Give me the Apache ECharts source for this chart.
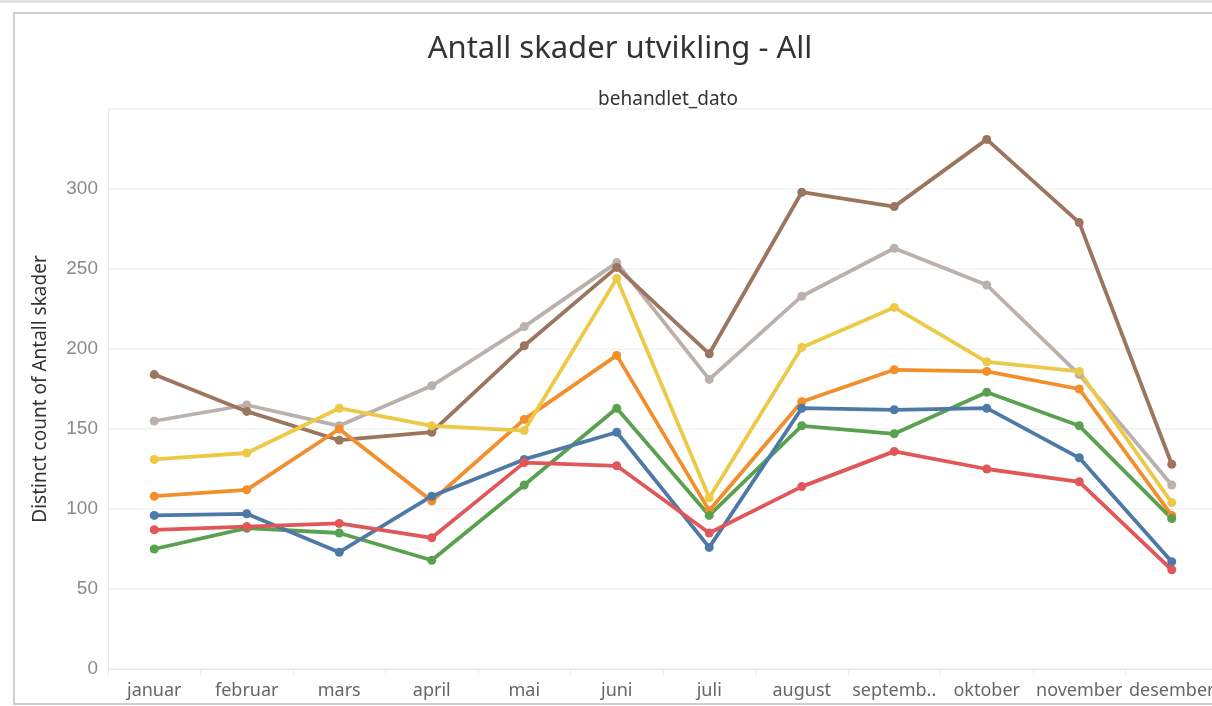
<!DOCTYPE html>
<html>
<head>
<meta charset="utf-8">
<script src="https://cdn.jsdelivr.net/npm/echarts@6/dist/echarts.min.js"></script>
<style>
  html, body { margin: 0; padding: 0; background: #fff; overflow: hidden; }
  #band { position: absolute; left: 0; top: 0; width: 1212px; height: 3px; background: #e4e0dc; }
  #frame { position: absolute; left: 13px; top: 12px; width: 1210px; height: 689px; border: 2px solid #cfcfcf; border-right: none; }
  #main { position: absolute; left: 0; top: 0; width: 1220px; height: 706px; }
</style>
</head>
<body>
<div id="band"></div>
<div id="frame"></div>
<div id="main"></div>
<script>
// måneder og verdier
var months = ['januar', 'februar', 'mars', 'april', 'mai', 'juni', 'juli', 'august', 'septemb..', 'oktober', 'november', 'desember'];

var blue   = [96, 97, 73, 108, 131, 148, 76, 163, 162, 163, 132, 67];
var orange = [108, 112, 150, 105, 156, 196, 99, 167, 187, 186, 175, 96];
var red    = [87, 89, 91, 82, 129, 127, 85, 114, 136, 125, 117, 62];
var green  = [75, 88, 85, 68, 115, 163, 96, 152, 147, 173, 152, 94];
var yellow = [131, 135, 163, 152, 149, 244, 107, 201, 226, 192, 186, 104];
var brown  = [184, 161, 143, 148, 202, 251, 197, 298, 289, 331, 279, 128];
var grey   = [155, 165, 152, 177, 214, 254, 181, 233, 263, 240, 184, 115];

var yTicks = [0, 50, 100, 150, 200, 250, 300];

function line(name, data, color) {
  return {
    name: name,
    type: 'line',
    data: data,
    symbol: 'circle',
    symbolSize: 9,
    lineStyle: { width: 3.8, color: color },
    itemStyle: { color: color },
    animation: false
  };
}

var myChart = echarts.init(document.getElementById('main'));
myChart.setOption({
  title: [{
    text: 'Antall skader utvikling - All',
    left: 615,
    top: 29,
    textAlign: 'center',
    textStyle: { fontFamily: 'Noto Sans', fontSize: 31, fontWeight: 'normal', color: '#333' }
  }, {
    text: 'behandlet_dato',
    left: 663,
    top: 85,
    textAlign: 'center',
    textStyle: { fontFamily: 'Noto Sans', fontSize: 19, fontWeight: 'normal', color: '#333' }
  }],
  grid: { left: 108, right: 2, top: 109, bottom: 37 },
  xAxis: {
    type: 'category',
    data: months,
    axisLine: { lineStyle: { color: '#e6e6e6' } },
    axisTick: { show: true, length: 7, lineStyle: { color: '#ececec' } },
    axisLabel: { fontFamily: 'Noto Sans', fontSize: 18, color: '#666', margin: 13, interval: 0 }
  },
  yAxis: {
    type: 'value',
    min: 0,
    max: 350,
    interval: 50,
    name: 'Distinct count of Antall skader',
    nameLocation: 'middle',
    nameGap: 58,
    nameTextStyle: { fontFamily: 'Noto Sans', fontSize: 19, color: '#333' },
    axisLine: { show: true, lineStyle: { color: '#e6e6e6' } },
    axisTick: { show: false },
    axisLabel: {
      fontFamily: 'Liberation Sans', fontSize: 19, color: '#8a8a8a', margin: 10,
      formatter: function (v) { return yTicks.indexOf(v) >= 0 ? String(v) : ''; }
    },
    splitLine: { lineStyle: { color: '#f2f2f2', width: 1.5 } }
  },
  series: [
    line('grå', grey, '#bab0ac'),
    line('brun', brown, '#9c755f'),
    line('oransje', orange, '#f28e2b'),
    line('grønn', green, '#59a14f'),
    line('blå', blue, '#4e79a7'),
    line('rød', red, '#e15759'),
    line('gul', yellow, '#edc948')
  ]
});
</script>
</body>
</html>
